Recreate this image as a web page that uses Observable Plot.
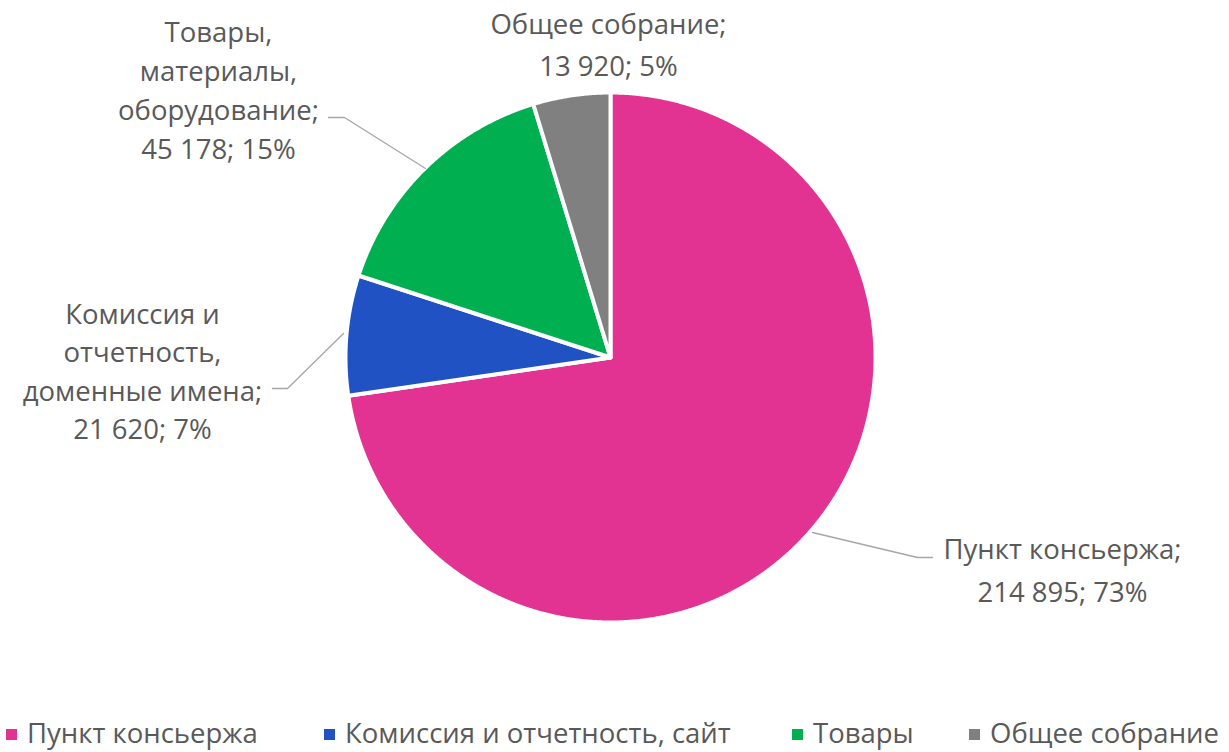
<!DOCTYPE html>
<html><head><meta charset="utf-8">
<script src="https://cdn.jsdelivr.net/npm/d3@7"></script>
<script src="https://cdn.jsdelivr.net/npm/@observablehq/plot@0.6"></script>
<style>
body{margin:0;background:#fff;font-family:"Open Sans",sans-serif;}
#wrap{position:relative;width:1229px;height:752px;overflow:hidden;background:#fff}
#chart{position:absolute;left:0;top:0}
.leg{position:absolute;top:719px;font-size:27.5px;line-height:28px;color:#595959;white-space:nowrap}
.leg i{display:inline-block;width:11px;height:11px;margin-right:10px;vertical-align:middle;position:relative;top:-1px}
</style></head><body>
<div id="wrap"><div id="chart"></div><div id="legend"></div></div>
<script>
// ---- data ----
const categories = ["Пункт консьержа", "Комиссия и отчетность, доменные имена", "Товары, материалы, оборудование", "Общее собрание"];
const values = [214895, 21620, 45178, 13920];
const valueLabels = ["214 895", "21 620", "45 178", "13 920"];
const labelLines = [
  ["Пункт консьержа;"],
  ["Комиссия и", "отчетность,", "доменные имена;"],
  ["Товары,", "материалы,", "оборудование;"],
  ["Общее собрание;"]
];
const legendLabels = ["Пункт консьержа", "Комиссия и отчетность, сайт", "Товары", "Общее собрание"];
const colors = ["#E23392", "#2152C4", "#00B050", "#808080"];

// ---- layout (pixels) ----
const W = 1229, H = 715, CX = 610, CY = 357, R = 265;
const labelLayout = [
  {x: 1062, y: 558, lh: 43, leader: [[812, 532], [917, 557], [932, 557]]},
  {x: 142, y: 323, lh: 38.5, leader: [[343, 333], [287, 388], [272, 388]]},
  {x: 218, y: 41, lh: 39, leader: [[425, 168], [344, 117], [328, 117]]},
  {x: 608, y: 33, lh: 42, leader: null}
];
const legendLayout = [6, 324, 792, 969];
const toX = px => (px - CX) / R, toY = py => (CY - py) / R;

// ---- derived ----
const total = d3.sum(values);
const pie = d3.pie().sort(null)(values);
const slicePts = [];
pie.forEach((p, i) => {
  const c = categories[i];
  slicePts.push({c, x: 0, y: 0});
  const n = Math.max(2, Math.ceil((p.endAngle - p.startAngle) / 0.004));
  for (let k = 0; k <= n; k++) {
    const a = p.startAngle + (p.endAngle - p.startAngle) * k / n;
    slicePts.push({c, x: Math.sin(a), y: Math.cos(a)});
  }
});
const textRows = [];
const leaderPts = [];
categories.forEach((c, i) => {
  const L = labelLayout[i];
  const lines = [...labelLines[i], `${valueLabels[i]}; ${Math.round(values[i] / total * 100)}%`];
  lines.forEach((t, j) => textRows.push({text: t, x: toX(L.x), y: toY(L.y + j * L.lh)}));
  if (L.leader) L.leader.forEach(([px, py]) => leaderPts.push({id: c, x: toX(px), y: toY(py)}));
});

const chart = Plot.plot({
  width: W, height: H, margin: 0,
  style: {fontFamily: "Open Sans, sans-serif", background: "white"},
  x: {domain: [-1, 1], range: [CX - R, CX + R], axis: null},
  y: {domain: [-1, 1], range: [CY + R, CY - R], axis: null},
  color: {domain: categories, range: colors},
  marks: [
    Plot.line(slicePts, {x: "x", y: "y", z: "c", fill: "c", stroke: "white", strokeWidth: 4, strokeLinejoin: "round", curve: "linear-closed"}),
    Plot.line(leaderPts, {x: "x", y: "y", z: "id", stroke: "#A6A6A6", strokeWidth: 1.3}),
    Plot.text(textRows, {x: "x", y: "y", text: "text", textAnchor: "middle", lineAnchor: "bottom", fontSize: 27.5, fill: "#595959"})
  ]
});
document.getElementById("chart").appendChild(chart);

const leg = document.getElementById("legend");
legendLabels.forEach((t, i) => {
  const d = document.createElement("div");
  d.className = "leg";
  d.style.left = legendLayout[i] + "px";
  d.innerHTML = `<i style="background:${colors[i]}"></i>${t}`;
  leg.appendChild(d);
});
</script>
</body></html>
